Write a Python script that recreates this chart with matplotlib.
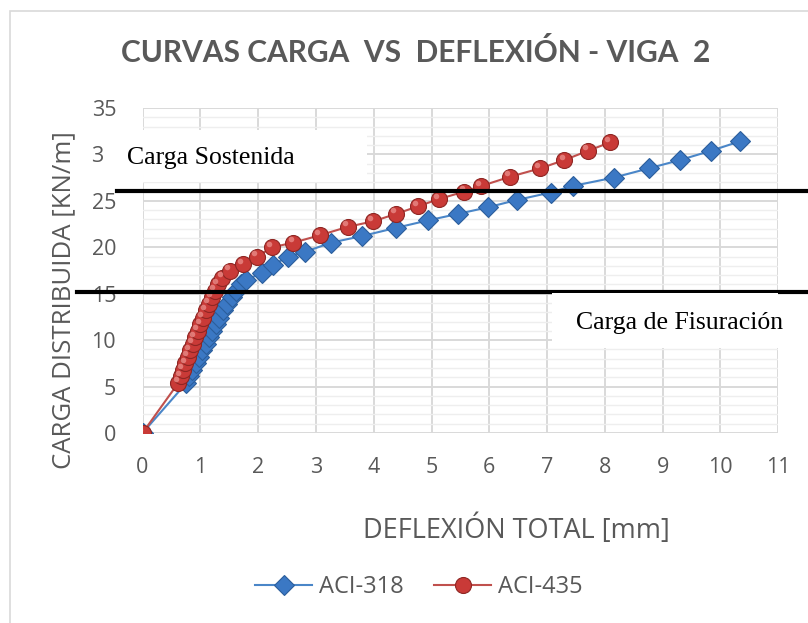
import matplotlib
matplotlib.use("Agg")
import matplotlib.pyplot as plt
from matplotlib.patches import Rectangle
import matplotlib.transforms as mtransforms

# ACI-318 (deflexion mm, carga kN/m)
aci318_x = [0, 0.76, 0.81, 0.86, 0.92, 0.97, 1.03, 1.09, 1.15, 1.21, 1.27, 1.33, 1.40,
            1.47, 1.54, 1.62, 1.70, 1.79, 2.06, 2.26, 2.52, 2.81, 3.26, 3.79, 4.39,
            4.94, 5.46, 5.97, 6.48, 7.06, 7.44, 8.15, 8.76, 9.30, 9.84, 10.33]
aci318_y = [0, 5.4, 6.1, 6.8, 7.5, 8.2, 8.9, 9.6, 10.3, 11.0, 11.7, 12.4, 13.2,
            13.9, 14.6, 15.3, 16.0, 16.5, 17.2, 18.1, 19.0, 19.5, 20.5, 21.2, 22.1,
            22.9, 23.6, 24.3, 25.1, 25.9, 26.6, 27.5, 28.5, 29.4, 30.4, 31.4]

# ACI-435
aci435_x = [0, 0.62, 0.66, 0.70, 0.74, 0.78, 0.82, 0.87, 0.91, 0.96, 1.00, 1.05, 1.10,
            1.15, 1.20, 1.25, 1.31, 1.38, 1.51, 1.74, 1.98, 2.24, 2.61, 3.07, 3.55,
            3.99, 4.39, 4.76, 5.13, 5.57, 5.86, 6.36, 6.88, 7.30, 7.71, 8.09]
aci435_y = [0, 5.4, 6.1, 6.8, 7.5, 8.2, 8.9, 9.6, 10.3, 11.0, 11.7, 12.4, 13.2,
            13.9, 14.6, 15.3, 16.0, 16.7, 17.5, 18.2, 19.0, 20.0, 20.5, 21.3, 22.2,
            22.8, 23.6, 24.4, 25.2, 26.0, 26.6, 27.6, 28.5, 29.4, 30.4, 31.3]

carga_sostenida = 26.1
carga_fisuracion = 15.2

gray_txt = "#595959"
grid_c = "#d9d9d9"

fig = plt.figure(figsize=(8.08, 6.23), dpi=100)
ax = fig.add_axes([0.1764, 0.305, 0.7868, 0.5216])

# chart border
fig.patches.append(Rectangle((10 / 808, -0.1), 1.2, 1 - 11 / 623 + 0.1,
                             transform=fig.transFigure, fill=False,
                             edgecolor="#d9d9d9", lw=1.2))

ax.plot(aci318_x, aci318_y, color="#4a86c8", lw=1.5, marker="D", markersize=10,
        markerfacecolor="#3b78c4", markeredgecolor="#2b5e9c", markeredgewidth=0.8,
        label="ACI-318", zorder=3)
ax.plot(aci435_x, aci435_y, color="#c0504d", lw=1.5, marker="o", markersize=11.5,
        markerfacecolor="#c93a37", markeredgecolor="#8e2623", markeredgewidth=0.8,
        label="ACI-435", zorder=4)
# small highlight on the balls to get a bit of the 3D look
shift = mtransforms.ScaledTranslation(-2 / 72, 2.5 / 72, fig.dpi_scale_trans)
ax.plot(aci435_x, aci435_y, ls="none", marker="o", markersize=4,
        markerfacecolor="#e98a86", markeredgecolor="none", alpha=0.8,
        transform=ax.transData + shift, zorder=4.5)

ax.set_xlim(0, 11)
ax.set_ylim(0, 35)
ax.set_xticks(range(0, 12))
ax.set_yticks(range(0, 36, 5))
ax.set_yticks(range(0, 36), minor=True)
ax.grid(True, which="major", color=grid_c, lw=1.4, zorder=0)
ax.grid(True, which="minor", axis="y", color="#eeeeee", lw=1.0, zorder=0)
ax.set_axisbelow(True)
for s in ax.spines.values():
    s.set_visible(False)
ax.tick_params(which="both", length=0)
ax.tick_params(axis="y", pad=19, labelsize=15.5, labelcolor=gray_txt)
ax.tick_params(axis="x", pad=17, labelsize=15.5, labelcolor=gray_txt)
for lab in ax.get_xticklabels() + ax.get_yticklabels():
    lab.set_family("Open Sans")

fig.text(416 / 808, 1 - 53 / 623, "CURVAS CARGA  VS  DEFLEXIÓN - VIGA  2",
         ha="center", va="center", fontsize=21.5, fontweight="bold",
         color=gray_txt, family="Lato")
fig.text(64 / 808, 1 - 300 / 623, "CARGA DISTRIBUIDA [KN/m]", rotation=90,
         ha="center", va="center", fontsize=18.5, color=gray_txt, family="Open Sans")
fig.text(516 / 808, 1 - 530 / 623, "DEFLEXIÓN TOTAL [mm]",
         ha="center", va="center", fontsize=19.5, color=gray_txt, family="Open Sans")

# horizontal reference lines, running past the plot area
tr = mtransforms.blended_transform_factory(fig.transFigure, ax.transData)
ax.plot([117 / 808, 1.0], [carga_sostenida] * 2, color="black", lw=3,
        transform=tr, clip_on=False, zorder=5)
ax.plot([77 / 808, 1.0], [carga_fisuracion] * 2, color="black", lw=3,
        transform=tr, clip_on=False, zorder=5)

# white text boxes
fig.patches.append(Rectangle((104 / 808, 1 - 182 / 623), 263 / 808, 52 / 623,
                             transform=fig.transFigure, facecolor="white",
                             edgecolor="none", zorder=6))
fig.text(211 / 808, 1 - 158 / 623, "Carga Sostenida", ha="center", va="center",
         fontsize=18.5, family="Liberation Serif", color="black", zorder=7)
fig.patches.append(Rectangle((552 / 808, 1 - 348 / 623), 226 / 808, 55 / 623,
                             transform=fig.transFigure, facecolor="white",
                             edgecolor="none", zorder=6))
fig.text(680 / 808, 1 - 323 / 623, "Carga de Fisuración", ha="center", va="center",
         fontsize=18.5, family="Liberation Serif", color="black", zorder=7)

leg = fig.legend(loc="center", bbox_to_anchor=(419 / 808, 1 - 587 / 623), ncol=2,
                 frameon=False, fontsize=17, handlelength=2.4, columnspacing=1.3,
                 handletextpad=0.3)
for t in leg.get_texts():
    t.set_color(gray_txt)
    t.set_family("Open Sans")

fig.savefig("out.png", dpi=100)
